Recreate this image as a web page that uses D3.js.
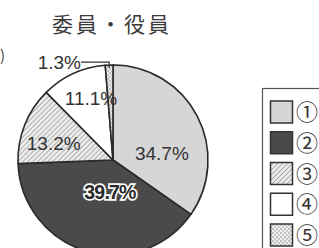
<!DOCTYPE html>
<html><head><meta charset="utf-8">
<script src="https://cdn.jsdelivr.net/npm/d3@7"></script>
<style>body{margin:0;background:#fff}svg{display:block}</style>
</head><body>
<svg id="c" width="319" height="248"></svg>
<script>
const title = "委員・役員";
const categories = ["①","②","③","④","⑤"];
const values = [34.7, 39.7, 13.2, 11.1, 1.3];
const valueLabels = ["34.7%","39.7%","13.2%","11.1%","1.3%"];

const W = 319, H = 248;
const cx = 113, cy = 160, R = 95;
const svg = d3.select("#c");
const defs = svg.append("defs");

const hatch = defs.append("pattern").attr("id","hatch").attr("patternUnits","userSpaceOnUse")
  .attr("width",3.5).attr("height",3.5).attr("patternTransform","rotate(45)");
hatch.append("rect").attr("width",3.5).attr("height",3.5).attr("fill","#ececec");
hatch.append("line").attr("x1",0).attr("y1",0).attr("x2",0).attr("y2",3.5).attr("stroke","#8a8a8a").attr("stroke-width",1.2);

const dots = defs.append("pattern").attr("id","dots").attr("patternUnits","userSpaceOnUse")
  .attr("width",4).attr("height",4);
dots.append("rect").attr("width",4).attr("height",4).attr("fill","#eeeeee");
dots.append("circle").attr("cx",1).attr("cy",1).attr("r",0.8).attr("fill","#888");
dots.append("circle").attr("cx",3).attr("cy",3).attr("r",0.8).attr("fill","#999");

const fills = ["#d6d6d6","#4a4a4a","url(#hatch)","#ffffff","url(#dots)"];
const color = d3.scaleOrdinal().domain(categories).range(fills);

// title
svg.append("text").attr("x",112).attr("y",32).attr("text-anchor","middle")
  .attr("font-family","'Noto Sans CJK JP'").attr("font-size",21).attr("letter-spacing",3)
  .attr("fill","#3a3a3a").text(title);
// fragment of neighbouring chart
svg.append("text").attr("x",0).attr("y",61).attr("font-family","'Noto Sans CJK JP'")
  .attr("font-size",15).attr("fill","#444").text(")");

const pie = d3.pie().sort(null).value(d => d.v).startAngle(0).endAngle(2*Math.PI);
const data = categories.map((c,i) => ({c, v: values[i], label: valueLabels[i]}));
const arcs = pie(data);
const arc = d3.arc().innerRadius(0).outerRadius(R);

const g = svg.append("g").attr("transform",`translate(${cx},${cy})`);
g.selectAll("path").data(arcs).join("path")
  .attr("d",arc).attr("fill",d => color(d.data.c))
  .attr("stroke","#2a2a2a").attr("stroke-width",1.6).attr("stroke-linejoin","round");

// label layout: radius fraction and angle shift (degrees) from slice mid
const labelR = [0.52, 0.34, 0.65, 0.69];
const labelShift = [19, -11, -5.5, 5];
function polar(a, r){ return [Math.sin(a)*r, -Math.cos(a)*r]; }

arcs.slice(0,4).forEach((d,i) => {
  const mid = (d.startAngle + d.endAngle)/2 + labelShift[i]*Math.PI/180;
  const [x,y] = polar(mid, labelR[i]*R);
  const t = g.append("text").attr("x",x).attr("y",y).attr("dy","0.36em")
    .attr("text-anchor","middle").attr("font-family","'Liberation Sans', Arial, sans-serif")
    .attr("font-size",19).text(d.data.label);
  if (i === 1) {
    t.attr("fill","#2a2a2a").attr("stroke","#fff").attr("stroke-width",3.4)
     .attr("paint-order","stroke").attr("font-size",19.5).attr("font-weight","bold").attr("letter-spacing",-0.8);
  } else {
    t.attr("fill","#333");
  }
});

// small slice label with leader
const s = arcs[4];
const sm = (s.startAngle + s.endAngle)/2;
const [px,py] = polar(sm, R*0.97);
const [ex,ey] = polar(sm, R+3);
const tx = -32;
g.append("polyline").attr("points",`${px},${py} ${px},${ey} ${tx},${ey}`)
  .attr("fill","none").attr("stroke","#333").attr("stroke-width",1.2);
g.append("text").attr("x",tx).attr("y",ey).attr("dy","0.36em").attr("text-anchor","end")
  .attr("font-family","'Liberation Sans', Arial, sans-serif").attr("font-size",19)
  .attr("fill","#333").text(s.data.label);

// legend
svg.append("rect").attr("x",262.5).attr("y",88.5).attr("width",80).attr("height",200)
  .attr("fill","#fff").attr("stroke","#555").attr("stroke-width",1.2);
const ly = d3.scalePoint().domain(categories).range([112, 235]);
const lg = svg.append("g");
lg.selectAll("rect").data(categories).join("rect")
  .attr("x",270.5).attr("y",c => ly(c)-11).attr("width",22).attr("height",22)
  .attr("fill",c => color(c)).attr("stroke","#333").attr("stroke-width",1.5);
lg.selectAll("text").data(categories).join("text")
  .attr("x",307).attr("y",c => ly(c)).attr("dy","0.37em").attr("text-anchor","middle")
  .attr("font-family","'Noto Sans CJK JP'").attr("font-size",22).attr("fill","#333")
  .text(c => c);
</script>
</body></html>
